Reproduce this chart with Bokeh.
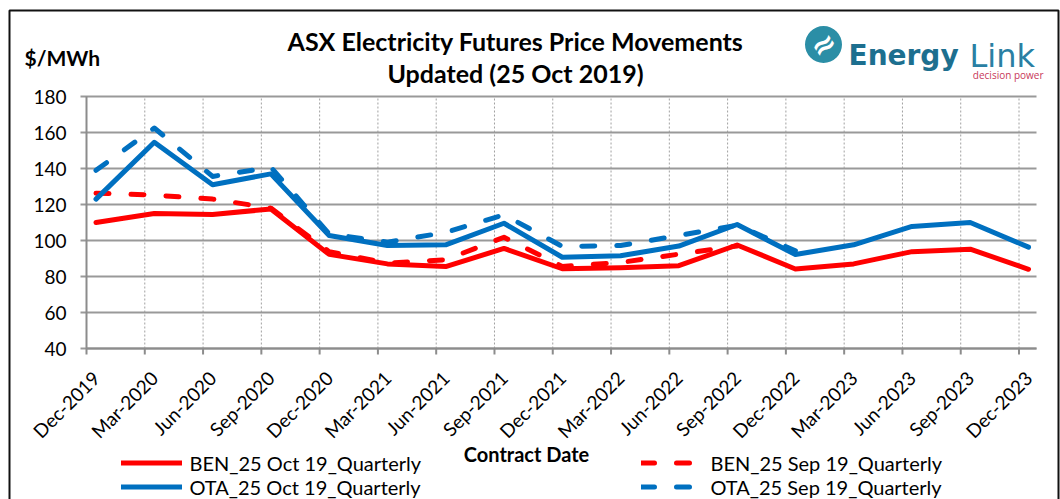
import math
from bokeh.plotting import figure
from bokeh.models import Range1d, Label, Legend, LegendItem, BoxAnnotation
from bokeh.embed import file_html
from bokeh.resources import INLINE
from bokeh.core.properties import value

# ---------------- data ----------------
contracts = ["Dec-2019", "Mar-2020", "Jun-2020", "Sep-2020", "Dec-2020", "Mar-2021",
             "Jun-2021", "Sep-2021", "Dec-2021", "Mar-2022", "Jun-2022", "Sep-2022",
             "Dec-2022", "Mar-2023", "Jun-2023", "Sep-2023", "Dec-2023"]
ben_oct = [110.0, 115.0, 114.5, 117.5, 92.3, 87.0, 85.5, 95.6, 84.3, 84.8, 86.0, 97.5,
           84.2, 87.0, 93.8, 95.2, 84.0]
ben_sep = [126.3, 125.2, 123.0, 118.0, 93.8, 87.4, 89.3, 101.8, 85.6, 87.8, 92.4, 97.0]
ota_oct = [123.0, 154.6, 131.0, 137.0, 102.8, 97.2, 97.6, 109.6, 90.7, 91.5, 96.9, 108.9,
           92.2, 97.6, 107.8, 110.0, 96.3]
ota_sep = [139.0, 162.5, 135.6, 140.7, 103.7, 99.1, 104.5, 114.3, 96.7, 97.2, 102.8, 108.5,
           94.3]
y_ticks = [40, 60, 80, 100, 120, 140, 160, 180]
series_names = ["BEN_25 Oct 19_Quarterly", "BEN_25 Sep 19_Quarterly",
                "OTA_25 Oct 19_Quarterly", "OTA_25 Sep 19_Quarterly"]

# ---------------- layout constants (canvas px) ----------------
W, H = 1060, 499
AX_L, AX_R = 86, 1036          # plot-area left (first boundary) / right edge
PX_PER_X = (AX_R - AX_L) / 16.3
BOUND_OFF = -0.163             # category boundary offset from point position
PY_TOP, PY_BOT = 96, 348       # y=180 / y=40
YMAX, YMIN = 180, 40
PX_PER_Y = (PY_BOT - PY_TOP) / (YMAX - YMIN)
RED = "#ff0000"
BLUE = "#0070c0"
GRID = "#999999"
AXIS = "#8c8c8c"
FONT = "Lato"


def X(px):
    return BOUND_OFF + (px - AX_L) / PX_PER_X


def Y(py):
    return YMAX - (py - PY_TOP) / PX_PER_Y


p = figure(width=W, height=H, x_range=Range1d(X(0), X(W)), y_range=Range1d(Y(H), Y(0)),
           output_backend="svg", toolbar_location=None, x_axis_type=None, y_axis_type=None,
           min_border=0, title_location=None)
p.outline_line_color = None
p.background_fill_color = "white"
p.border_fill_color = "white"
p.grid.visible = False

n = len(contracts)
bounds = [i + BOUND_OFF for i in range(n)]

# vertical dotted grid lines at category boundaries
p.segment(x0=bounds, y0=[YMIN] * n, x1=bounds, y1=[YMAX] * n,
          line_color="#a0a0a0", line_width=1, line_dash="2 2")
# horizontal grid lines (extended left to form tick marks)
p.segment(x0=[X(AX_L - 6)] * len(y_ticks), y0=y_ticks, x1=[X(AX_R)] * len(y_ticks),
          y1=y_ticks, line_color=GRID, line_width=2)
# x tick marks
p.segment(x0=bounds, y0=[YMIN] * n, x1=bounds, y1=[Y(PY_BOT + 6)] * n,
          line_color=AXIS, line_width=2)
# axis lines
p.segment(x0=[BOUND_OFF, BOUND_OFF], y0=[YMIN, YMIN], x1=[BOUND_OFF, X(AX_R)],
          y1=[YMAX, YMIN], line_color=AXIS, line_width=2)

# tick labels
p.text(x=[X(66)] * len(y_ticks), y=y_ticks, text=[str(v) for v in y_ticks],
       text_align="right", text_baseline="middle", text_font=value(FONT),
       text_font_size="19px", text_color="black")
p.text(x=list(range(n)), y=[Y(374)] * n, text=contracts, angle=math.pi / 4,
       text_align="right", text_baseline="middle", text_font=value(FONT),
       text_font_size="19px", text_color="black")

# series lines
common = dict(line_width=5, line_cap="round", line_join="round")
r1 = p.line(list(range(len(ben_oct))), ben_oct, line_color=RED, **common)
r2 = p.line(list(range(len(ben_sep))), ben_sep, line_color=RED, line_dash="13 22", **common)
r3 = p.line(list(range(len(ota_oct))), ota_oct, line_color=BLUE, **common)
r4 = p.line(list(range(len(ota_sep))), ota_sep, line_color=BLUE, line_dash="13 22", **common)

# legends (two columns)
leg_top, row_h = 452.5, 23
leg_common = dict(orientation="vertical", padding=0, margin=0, spacing=0,
                  glyph_width=61, glyph_height=row_h, label_height=row_h,
                  label_text_font=FONT, label_text_font_size="20px",
                  label_text_color="black", background_fill_alpha=0,
                  border_line_color=None, inactive_fill_alpha=0)
vy = H - leg_top - 2 * row_h
leg1 = Legend(items=[LegendItem(label=series_names[0], renderers=[r1]),
                     LegendItem(label=series_names[2], renderers=[r3])],
              location=(120.5, vy), label_standoff=8, **leg_common)
leg2 = Legend(items=[LegendItem(label=series_names[1], renderers=[r2]),
                     LegendItem(label=series_names[3], renderers=[r4])],
              location=(640.5, vy), label_standoff=9, **leg_common)
p.add_layout(leg1)
p.add_layout(leg2)


def lab(text, px, py, size, bold=False, align="center", color="black", font=FONT,
        baseline="middle", angle=0):
    p.add_layout(Label(x=X(px), y=Y(py), text=text, text_align=align,
                       text_baseline=baseline, text_font=font, angle=angle,
                       text_font_size=size, text_color=color,
                       text_font_style="bold" if bold else "normal"))


lab("ASX Electricity Futures Price Movements", 515, 40, "25px", bold=True)
lab("Updated (25 Oct 2019)", 515, 72, "25px", bold=True)
lab("$/MWh", 24, 57, "21px", bold=True, align="left")
lab("Contract Date", 526, 453, "20px", bold=True)

# logo
p.scatter(x=[X(823)], y=[Y(44)], size=37, marker="circle", fill_color="#2b8ea6",
          line_color=None)
lab("≈", 823, 44, "30px", bold=True, color="white", font="DejaVu Sans", angle=0.6)
lab("Energy", 848, 55, "28px", bold=True, align="left", color="#1d6f8f",
    font="DejaVu Sans", baseline="alphabetic")
lab("Link", 969, 55, "32px", align="left", color="#2a7fa3", font="DejaVu Sans",
    baseline="alphabetic")
lab("decision power", 1043, 74, "10px", align="right", color="#c8385a",
    font="Open Sans", baseline="alphabetic")

# outer frame of the chart
p.add_layout(BoxAnnotation(left=X(9), right=X(1058), top=Y(10), bottom=Y(H + 20),
                           fill_color=None, fill_alpha=0, line_color="#111111",
                           line_width=2, line_alpha=1))

open("out.html", "w").write(file_html(p, INLINE))
